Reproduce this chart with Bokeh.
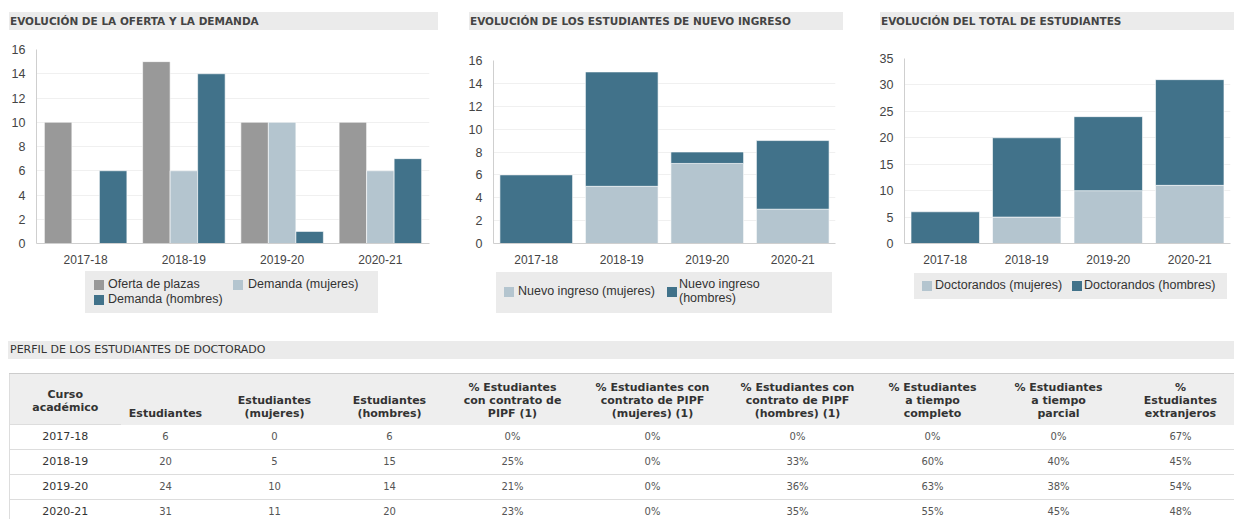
from bokeh.plotting import figure
from bokeh.models import Div, ColumnDataSource, SingleIntervalTicker
from bokeh.layouts import row, column
from bokeh.transform import dodge
from bokeh.embed import file_html
from bokeh.resources import INLINE

# ---------------- data ----------------
cursos = ["2017-18", "2018-19", "2019-20", "2020-21"]

oferta_plazas = [10, 15, 10, 10]
demanda_mujeres = [0, 6, 10, 6]
demanda_hombres = [6, 14, 1, 7]

nuevo_mujeres = [0, 5, 7, 3]
nuevo_hombres = [6, 10, 1, 6]

doctorandos_mujeres = [0, 5, 10, 11]
doctorandos_hombres = [6, 15, 14, 20]

tabla_estudiantes = [6, 20, 24, 31]
tabla_mujeres = [0, 5, 10, 11]
tabla_hombres = [6, 15, 14, 20]
tabla_pipf = ["0%", "25%", "21%", "23%"]
tabla_pipf_mujeres = ["0%", "0%", "0%", "0%"]
tabla_pipf_hombres = ["0%", "33%", "36%", "35%"]
tabla_completo = ["0%", "60%", "63%", "55%"]
tabla_parcial = ["0%", "40%", "38%", "45%"]
tabla_extranjeros = ["67%", "45%", "54%", "48%"]

cabeceras = [
    "Curso<br>académico",
    "Estudiantes",
    "Estudiantes<br>(mujeres)",
    "Estudiantes<br>(hombres)",
    "% Estudiantes<br>con contrato de<br>PIPF (1)",
    "% Estudiantes con<br>contrato de PIPF<br>(mujeres) (1)",
    "% Estudiantes con<br>contrato de PIPF<br>(hombres) (1)",
    "% Estudiantes<br>a tiempo<br>completo",
    "% Estudiantes<br>a tiempo<br>parcial",
    "%<br>Estudiantes<br>extranjeros",
]

titulos = [
    "EVOLUCIÓN DE LA OFERTA Y LA DEMANDA",
    "EVOLUCIÓN DE LOS ESTUDIANTES DE NUEVO INGRESO",
    "EVOLUCIÓN DEL TOTAL DE ESTUDIANTES",
]
titulo_tabla = "PERFIL DE LOS ESTUDIANTES DE DOCTORADO"

leyenda1 = ["Oferta de plazas", "Demanda (mujeres)", "Demanda (hombres)"]
leyenda2 = ["Nuevo ingreso (mujeres)", "Nuevo ingreso<br>(hombres)"]
leyenda3 = ["Doctorandos (mujeres)", "Doctorandos (hombres)"]

GRIS = "#999999"
CLARO = "#b4c5cf"
OSCURO = "#41728a"

FONT = "Liberation Sans"


def title_div(text, width, margin_left, bar_width):
    html = (
        f'<div style="margin-left:{margin_left}px;width:{bar_width}px;height:18px;'
        f'background:#ebebeb;font-family:\'DejaVu Sans\';font-weight:bold;font-size:10.5px;'
        f'line-height:18px;color:#444;padding-left:1px;box-sizing:border-box;white-space:nowrap;">{text}</div>'
    )
    return Div(text=html, width=width, height=18, margin=0)


def legend_div(width, height, box_left, box_top, box_w, box_h, entries):
    # entries: (color, label, swatch_x, swatch_y, text_x, text_y)
    parts = []
    for color, label, sx, sy, tx, ty in entries:
        parts.append(f'<div style="position:absolute;left:{sx}px;top:{sy}px;width:10px;height:10px;'
                     f'background:{color};"></div>')
        parts.append(f'<div style="position:absolute;left:{tx}px;top:{ty}px;font-family:\'{FONT}\';'
                     f'font-size:12.5px;line-height:14px;color:#333;white-space:nowrap;">{label}</div>')
    html = (f'<div style="position:relative;width:{width}px;height:{height}px;">'
            f'<div style="position:absolute;left:{box_left}px;top:{box_top}px;width:{box_w}px;'
            f'height:{box_h}px;background:#ebebeb;">' + "".join(parts) + '</div></div>')
    return Div(text=html, width=width, height=height, margin=0)


def make_fig(width, height, ymax, interval, bl, br, bt, bb):
    p = figure(x_range=cursos, y_range=(0, ymax), width=width, height=height,
               output_backend="svg", toolbar_location=None, margin=0,
               min_border_left=bl, min_border_right=br, min_border_top=bt, min_border_bottom=bb)
    p.outline_line_color = None
    p.xgrid.grid_line_color = None
    p.ygrid.grid_line_color = "#f0f0f0"
    p.yaxis.ticker = SingleIntervalTicker(interval=interval)
    for ax in (p.xaxis, p.yaxis):
        ax.axis_line_color = "#cfcfcf"
        ax.major_tick_line_color = None
        ax.minor_tick_line_color = None
        ax.major_label_text_font = FONT
        ax.major_label_text_font_size = "12px"
        ax.major_label_text_color = "#444444"
        ax.major_label_standoff = 5
    p.yaxis.major_label_text_font_size = "12.5px"
    p.x_range.range_padding = 0
    return p


FIG_H = 236

# ---------------- chart 1 ----------------
src1 = ColumnDataSource(dict(curso=cursos, oferta=oferta_plazas,
                             muj=demanda_mujeres, hom=demanda_hombres))
p1 = make_fig(452, FIG_H, 16, 2, 27, 31, 19, 20)
p1.vbar(x=dodge("curso", -0.28, range=p1.x_range), top="oferta", width=0.28,
        source=src1, fill_color=GRIS, line_color="white", line_alpha=0.6)
p1.vbar(x=dodge("curso", 0.0, range=p1.x_range), top="muj", width=0.28,
        source=src1, fill_color=CLARO, line_color="white", line_alpha=0.6)
p1.vbar(x=dodge("curso", 0.28, range=p1.x_range), top="hom", width=0.28,
        source=src1, fill_color=OSCURO, line_color="white", line_alpha=0.6)
lg1 = legend_div(452, 58, 77, 5, 293, 42, [
    (GRIS, leyenda1[0], 9, 9, 23, 6),
    (CLARO, leyenda1[1], 148, 9, 163, 6),
    (OSCURO, leyenda1[2], 9, 24, 23, 21),
])

# ---------------- chart 2 ----------------
src2 = ColumnDataSource(dict(curso=cursos, muj=nuevo_mujeres, hom=nuevo_hombres))
p2 = make_fig(410, FIG_H, 16, 2, 33, 35, 30, 19)
p2.vbar_stack(["muj", "hom"], x="curso", width=0.85, source=src2,
              fill_color=[CLARO, OSCURO], line_color="white", line_alpha=0.6)
lg2 = legend_div(410, 58, 36, 6, 336, 41, [
    (CLARO, leyenda2[0], 8, 15, 22, 12),
    (OSCURO, leyenda2[1], 171, 15, 183, 5),
])

# ---------------- chart 3 ----------------
src3 = ColumnDataSource(dict(curso=cursos, muj=doctorandos_mujeres, hom=doctorandos_hombres))
p3 = make_fig(364, FIG_H, 35, 5, 34, 4, 28, 18)
p3.vbar_stack(["muj", "hom"], x="curso", width=0.84, source=src3,
              fill_color=[CLARO, OSCURO], line_color="white", line_alpha=0.6)
lg3 = legend_div(364, 58, 44, 7, 313, 26, [
    (CLARO, leyenda3[0], 8, 8, 21, 5),
    (OSCURO, leyenda3[1], 158, 8, 170, 5),
])

col1 = column(title_div(titulos[0], 452, 1, 429), p1, lg1, spacing=0, margin=0)
col2 = column(title_div(titulos[1], 410, 9, 374), p2, lg2, spacing=0, margin=0)
col3 = column(title_div(titulos[2], 364, 10, 354), p3, lg3, spacing=0, margin=0)

# ---------------- table ----------------
anchos = [111, 90, 128, 102, 144, 136, 154, 116, 136, 108]
th = []
for i, (c, w) in enumerate(zip(cabeceras, anchos)):
    if i == 0:
        estilo = "vertical-align:middle;padding:3px 0 0 0;border-bottom:1px solid #dddddd;"
    else:
        estilo = "vertical-align:bottom;padding:0 0 5px 0;"
    th.append(f'<th style="width:{w}px;{estilo}'
              f'font-weight:bold;font-size:11px;line-height:13px;color:#333;text-align:center;'
              f'white-space:nowrap;">{c}</th>')
filas = []
for k in range(len(cursos)):
    vals = [tabla_estudiantes[k], tabla_mujeres[k], tabla_hombres[k], tabla_pipf[k],
            tabla_pipf_mujeres[k], tabla_pipf_hombres[k], tabla_completo[k],
            tabla_parcial[k], tabla_extranjeros[k]]
    celdas = [f'<td style="font-size:11px;color:#333;text-align:center;">{cursos[k]}</td>']
    celdas += [f'<td style="font-size:10px;color:#555;text-align:center;">{v}</td>' for v in vals]
    filas.append('<tr style="height:25px;border-bottom:1px solid #dddddd;">' + "".join(celdas) + "</tr>")

tabla_html = (
    '<div style="position:relative;width:1226px;height:195px;overflow:hidden;'
    'font-family:\'DejaVu Sans\';">'
    f'<div style="position:absolute;top:17px;left:0;width:1226px;height:18px;background:#ebebeb;'
    f'font-size:11px;line-height:18px;color:#333;padding-left:2px;box-sizing:border-box;">{titulo_tabla}</div>'
    '<table style="position:absolute;top:49px;left:1px;width:1225px;border-collapse:collapse;'
    'table-layout:fixed;border-top:1px solid #cccccc;border-left:1px solid #dddddd;">'
    '<tr style="height:51px;background:#eeeeee;">' + "".join(th) + "</tr>"
    + "".join(filas) + "</table></div>"
)
tabla = Div(text=tabla_html, width=1226, height=195, margin=0)

layout = column(row(col1, col2, col3, spacing=0, margin=0), tabla, spacing=0,
                margin=(12, 0, 0, 8))

open("out.html", "w").write(file_html(layout, INLINE))
